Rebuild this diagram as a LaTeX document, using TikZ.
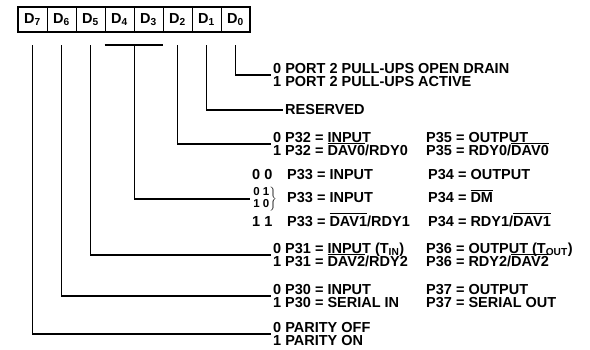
\documentclass[tikz,border=0pt]{standalone}
\usepackage{fontspec}
\setmainfont{Liberation Sans}
\lineskiplimit=-20pt

% 上划线 (不占行高)
\newcommand\ovl[1]{\setbox0\hbox{#1}\rlap{\raisebox{11.8pt}[0pt][0pt]{\rule{\wd0}{1.1pt}}}\box0}
% 一行: 位值 | 左列 | 右列
\newcommand\bitrow[3]{\makebox[12pt][l]{#1}\makebox[141pt][l]{#2}#3}
\newcommand\pairrow[3]{\makebox[35pt][l]{#1}\makebox[141pt][l]{#2}#3}

\begin{document}
\begin{tikzpicture}[
    x=1pt, y=-1pt,
    cell/.style={draw, line width=0.8pt, minimum width=29pt, minimum height=25pt, inner sep=0pt},
    link/.style={line width=1.8pt},
    entry/.style={anchor=west, align=left, inner xsep=2pt, inner ysep=0pt},
    font=\bfseries\fontsize{14.5}{13}\selectfont
]
    \useasboundingbox (0,0) rectangle (590,350);

    % 寄存器位 D7 ... D0
    \foreach \b [count=\k from 0] in {7,6,...,0}
        \node[cell] (d\b) at ({32.5+29*\k},19.5) {D\textsubscript{\b}};
    \draw[line width=2pt] (d7.north west) rectangle (d0.south east);

    % 说明文字
    \node[entry] (t0) at (271,75) {0 PORT 2 PULL-UPS OPEN DRAIN\\1 PORT 2 PULL-UPS ACTIVE};
    \node[entry] (t1) at (283,110) {RESERVED};
    \node[entry] (t2) at (271,144) {\bitrow{0}{P32 = INPUT}{P35 = OUTPUT}\\
        \bitrow{1}{P32 = \ovl{DAV0}/RDY0}{P35 = RDY0/\ovl{DAV0}}};
    \node[entry] (t3a) at (250,175) {\pairrow{0 0}{P33 = INPUT}{P34 = OUTPUT}};
    \node[entry] (t3b) at (250,199) {\pairrow{\boldmath$\left.\vcenter{\hbox{\fontsize{11.5}{11}\selectfont\lineskiplimit=0pt
        \begin{tabular}{@{}l@{}}0 1\\1 0\end{tabular}}}\right\}$}{P33 = INPUT}{P34 = \ovl{DM}}};
    \node[entry] (t3c) at (250,221) {\pairrow{1 1}{P33 = \ovl{DAV1}/RDY1}{P34 = RDY1/\ovl{DAV1}}};
    \node[entry] (t5) at (271,255) {\bitrow{0}{P31 = INPUT (T\textsubscript{IN})}{P36 = OUTPUT (T\textsubscript{OUT})}\\
        \bitrow{1}{P31 = \ovl{DAV2}/RDY2}{P36 = RDY2/\ovl{DAV2}}};
    \node[entry] (t6) at (271,296) {\bitrow{0}{P30 = INPUT}{P37 = OUTPUT}\\
        \bitrow{1}{P30 = SERIAL IN}{P37 = SERIAL OUT}};
    \node[entry] (t7) at (271,334) {0 PARITY OFF\\1 PARITY ON};

    % 1. 单个位的引线
    \draw[link] ([yshift=-13pt]d0.south) |- (t0.west);
    \draw[link] ([yshift=-13pt]d1.south) |- (t1.west);
    \draw[link] ([yshift=-13pt]d2.south) |- (t2.west);
    \draw[link] ([yshift=-13pt]d5.south) |- (t5.west);
    \draw[link] ([yshift=-13pt]d6.south) |- (t6.west);
    \draw[link] ([yshift=-13pt]d7.south) |- (t7.west);

    % 2. D4 D3 合用一条引线
    \draw[link] ([yshift=-13pt]d4.south west) -- ([yshift=-13pt]d3.south east);
    \draw[link] ([yshift=-13pt]d4.south east) |- (t3b.west);
\end{tikzpicture}
\end{document}
